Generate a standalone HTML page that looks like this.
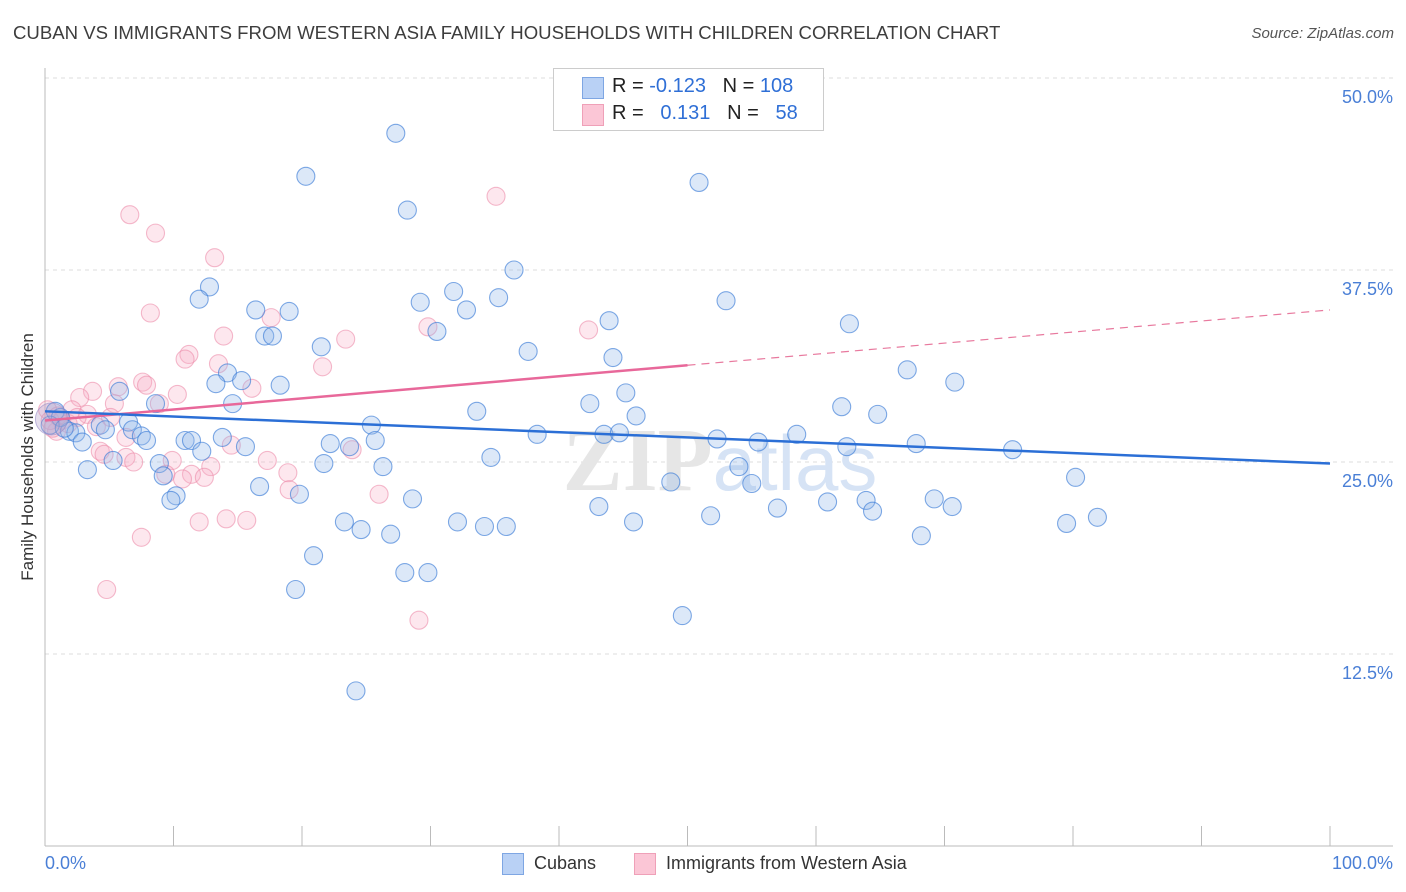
<!DOCTYPE html>
<html><head><meta charset="utf-8"><style>
body{margin:0;background:#fff;font-family:"Liberation Sans",sans-serif;}
#wrap{position:relative;width:1406px;height:892px;overflow:hidden;}
.t{position:absolute;white-space:nowrap;}
</style></head><body>
<div id="wrap">
<div class="t" style="left:13px;top:22px;font-size:18.6px;color:#3d3d3d;">CUBAN VS IMMIGRANTS FROM WESTERN ASIA FAMILY HOUSEHOLDS WITH CHILDREN CORRELATION CHART</div>
<div class="t" style="right:12px;top:25px;font-size:15px;color:#555;font-style:italic;">Source: ZipAtlas.com</div>
<div class="t" style="left:28px;top:457px;font-size:17px;color:#333;transform:translate(-50%,-50%) rotate(-90deg);">Family Households with Children</div>
<svg id="svg" width="1406" height="892" style="position:absolute;left:0;top:0"></svg>
<div style="position:absolute;left:553px;top:68px;width:269px;height:61px;border:1px solid #ccc;background:#fff;font-size:20px;">
 <div style="position:absolute;left:28px;top:8px;width:20px;height:20px;background:#b9d1f5;border:1px solid #7ea6e3;"></div>
 <div class="t" style="left:58px;top:6px;color:#222;">R = <span style="color:#2f6fd6">-0.123</span>&nbsp;&nbsp;&nbsp;N = <span style="color:#2f6fd6">108</span></div>
 <div style="position:absolute;left:28px;top:35px;width:20px;height:20px;background:#fbc6d6;border:1px solid #efa0b8;"></div>
 <div class="t" style="left:58px;top:33px;color:#222;">R = &nbsp;&nbsp;<span style="color:#2f6fd6">0.131</span>&nbsp;&nbsp;&nbsp;N = &nbsp;&nbsp;<span style="color:#2f6fd6">58</span></div>
</div>
<div class="t" style="left:45px;top:853px;font-size:18px;color:#4a7fd6;">0.0%</div>
<div class="t" style="right:13px;top:853px;font-size:18px;color:#4a7fd6;">100.0%</div>
<div style="position:absolute;left:502px;top:853px;width:20px;height:20px;background:#b9d1f5;border:1px solid #7ea6e3;"></div>
<div class="t" style="left:534px;top:853px;font-size:18px;color:#333;">Cubans</div>
<div style="position:absolute;left:634px;top:853px;width:20px;height:20px;background:#fbc6d6;border:1px solid #efa0b8;"></div>
<div class="t" style="left:666px;top:853px;font-size:18px;color:#333;">Immigrants from Western Asia</div>
</div>
<script>
const yTicks=[12.5,25,37.5,50];
const yTickLabels=["12.5%","25.0%","37.5%","50.0%"];
const xTicks=[0,10,20,30,40,50,60,70,80,90,100];
const cubanX=[27.3,20.3,50.9,28.2,36.5,12.8,31.8,12.0,35.3,29.2,53.0,16.4,19.0,32.8,62.6,43.9,17.1,17.7,30.5,21.5,37.6,44.2,67.1,14.2,15.3,13.3,18.3,70.8,45.2,5.8,14.6,8.6,42.4,62.0,33.6,46.0,64.8,25.4,6.5,4.3,6.8,4.7,1.9,2.4,38.3,43.5,44.7,58.5,7.5,7.9,10.9,11.4,13.8,25.7,52.3,55.5,22.2,23.7,15.6,2.9,62.4,67.8,75.3,12.2,34.7,5.3,8.9,21.7,26.3,54.0,3.3,9.2,80.2,48.7,55.0,16.7,10.2,19.8,28.6,9.8,69.2,60.9,63.9,43.1,70.6,57.0,64.4,51.8,81.9,23.3,32.1,45.8,79.5,34.2,35.9,24.6,26.9,68.2,20.9,28.0,29.8,19.5,49.6,24.2,0.8,1.2,0.4,1.5];
const cubanY=[46.4,43.6,43.2,41.4,37.5,36.4,36.1,35.6,35.7,35.4,35.5,34.9,34.8,34.9,34.0,34.2,33.2,33.2,33.5,32.5,32.2,31.8,31.0,30.8,30.3,30.1,30.0,30.2,29.5,29.6,28.8,28.8,28.8,28.6,28.3,28.0,28.1,27.4,27.6,27.4,27.1,27.1,27.0,26.9,26.8,26.8,26.9,26.8,26.7,26.4,26.4,26.4,26.6,26.4,26.5,26.3,26.2,26.0,26.0,26.3,26.0,26.2,25.8,25.7,25.3,25.1,24.9,24.9,24.7,24.7,24.5,24.1,24.0,23.7,23.6,23.4,22.8,22.9,22.6,22.5,22.6,22.4,22.5,22.1,22.1,22.0,21.8,21.5,21.4,21.1,21.1,21.1,21.0,20.8,20.8,20.6,20.3,20.2,18.9,17.8,17.8,16.7,15.0,10.1,28.3,27.9,27.4,27.2];
const immX=[35.1,6.6,8.6,13.2,8.2,17.6,29.8,42.3,13.9,23.4,11.2,10.9,13.5,21.6,7.6,5.7,7.9,3.7,16.1,10.3,2.7,8.9,5.4,2.1,3.3,5.1,1.3,4.0,0.9,6.3,23.9,14.5,4.3,4.6,6.3,6.9,9.9,17.3,12.9,18.9,9.4,11.4,10.7,12.4,19.0,26.0,12.0,14.1,15.7,7.5,4.8,29.1,0.2,0.4,0.6,1.0,1.8,2.5];
const immY=[42.3,41.1,39.9,38.3,34.7,34.4,33.8,33.6,33.2,33.0,32.0,31.7,31.4,31.2,30.2,29.9,30.0,29.6,29.8,29.4,29.2,28.8,28.8,28.4,28.1,27.9,27.7,27.3,27.0,26.6,25.8,26.1,25.7,25.5,25.3,25.0,25.1,25.1,24.7,24.3,24.2,24.2,23.9,24.0,23.2,22.9,21.1,21.3,21.2,20.1,16.7,14.7,28.4,27.7,27.2,28.0,27.5,27.9];
const cubanTrend=[28.3,24.9];      // y at x=0, x=100
const immTrend=[27.7,34.9];        // y at x=0, x=100
const immSolidEnd=50;
const X=v=>45+v*12.85, Y=v=>846-v*15.36;
const svg=document.getElementById('svg'),NS='http://www.w3.org/2000/svg';
function mk(t,a){const e=document.createElementNS(NS,t);for(const k in a)e.setAttribute(k,a[k]);svg.appendChild(e);return e;}
yTicks.forEach((v,i)=>{
 const g=mk('line',{x1:45,x2:1393,y1:Y(v),y2:Y(v),stroke:'#ddd','stroke-dasharray':'4,4'});
 
 
 const t=mk('text',{x:1393,y:Y(v)+25,'text-anchor':'end','font-size':18,fill:'#4a7fd6','font-family':'Liberation Sans, sans-serif'});
 t.textContent=yTickLabels[i];
 
 
});
const ax=mk('line',{x1:45,x2:45,y1:68,y2:846,stroke:'#bbb'});


const bx=mk('line',{x1:45,x2:1393,y1:846,y2:846,stroke:'#bbb'});


xTicks.forEach(v=>{const l=mk('line',{x1:X(v),x2:X(v),y1:826,y2:846,stroke:'#bbb'});
 
 });
const wm=mk('text',{x:720,y:490,'text-anchor':'middle','font-size':90,fill:'#e6e6e6','font-family':'Liberation Serif, serif','font-weight':'bold'});
wm.innerHTML='ZIP<tspan fill="#d6e3f5" font-family="Liberation Sans, sans-serif" font-weight="normal" font-size="78">atlas</tspan>';


immX.forEach((x,i)=>{const c=mk('circle',{cx:X(x),cy:Y(immY[i]),r:9,fill:'rgba(248,175,200,0.3)',stroke:'rgba(236,140,170,0.6)','stroke-width':1.1});
 
 });
cubanX.forEach((x,i)=>{const c=mk('circle',{cx:X(x),cy:Y(cubanY[i]),r:9,fill:'rgba(150,185,235,0.33)',stroke:'rgba(60,125,215,0.65)','stroke-width':1.1});
 
 });
const big=mk('circle',{cx:X(0.5),cy:Y(27.8),r:16,fill:'rgba(180,160,200,0.35)',stroke:'rgba(150,140,200,0.6)'});


const iAt=x=>immTrend[0]+(immTrend[1]-immTrend[0])*x/100;
const pd=mk('line',{x1:X(immSolidEnd),y1:Y(iAt(immSolidEnd)),x2:X(100),y2:Y(immTrend[1]),stroke:'#e8799e','stroke-width':1.2,'stroke-dasharray':'8,6'});


const ps=mk('line',{x1:X(0),y1:Y(immTrend[0]),x2:X(immSolidEnd),y2:Y(iAt(immSolidEnd)),stroke:'#e8689a','stroke-width':2.5});


const bl=mk('line',{x1:X(0),y1:Y(cubanTrend[0]),x2:X(100),y2:Y(cubanTrend[1]),stroke:'#2b6fd6','stroke-width':2.5});


</script>
</body></html>
